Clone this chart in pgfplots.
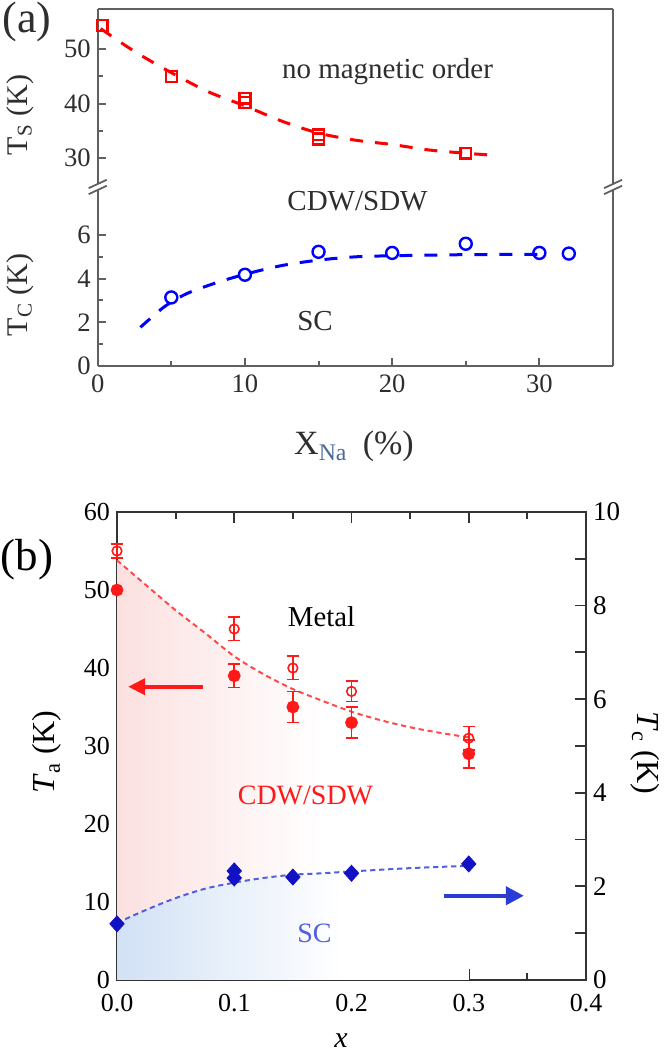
\documentclass[border=0pt]{standalone}
\usepackage{fontspec}
\setmainfont{Liberation Serif}
\usepackage{pgfplots}
\pgfplotsset{compat=1.18}
\usepackage{pgfplotstable}
\usetikzlibrary{arrows.meta}

\definecolor{axgray}{HTML}{606060}
\definecolor{axdark}{HTML}{333333}
\definecolor{txtgray}{HTML}{2E2E2E}
\definecolor{ared}{HTML}{FF0000}
\definecolor{ablue}{HTML}{0000FF}
\definecolor{bred}{HTML}{FF1A1A}
\definecolor{bredl}{HTML}{FF4A4A}
\definecolor{dkblue}{HTML}{1212C4}
\definecolor{lblue}{HTML}{5060E0}
\definecolor{arrblue}{HTML}{2B3BD6}
\definecolor{pinkc}{HTML}{FCE0E0}
\definecolor{bluec}{HTML}{D2E1F5}
\definecolor{nacol}{HTML}{4A6A9A}

\pgfdeclarehorizontalshading{pinkfade}{100bp}{color(0bp)=(pinkc); color(25bp)=(pinkc); color(54bp)=(white); color(100bp)=(white)}
\pgfdeclarehorizontalshading{bluefade}{100bp}{color(0bp)=(bluec); color(25bp)=(bluec); color(57bp)=(white); color(100bp)=(white)}

% ---------- panel (a) data ----------
\pgfplotstableread{
x Ts
0.3 54.4
5 45.0
10 41.0
10 40.2
15 33.5
15 34.3
25 30.9
}\tsdata
\pgfplotstableread{
x Ts
0.2 53.8
2.5 49.6
5 45.7
7.5 42.2
10 39.6
12.5 36.8
15 34.6
17.5 33.3
20 32.5
22.5 31.5
25 30.9
26.5 30.6
}\tsfit
\pgfplotstableread{
x Tc
5 3.14
10 4.18
15 5.23
20 5.18
25 5.60
30 5.18
32 5.15
}\tcdata
\pgfplotstableread{
x Tc
2.9 1.77
4.5 2.70
6 3.30
8 3.80
10 4.20
12.5 4.60
15 4.85
17.5 5.00
20 5.05
25 5.10
30.5 5.12
}\tcfit

% ---------- panel (b) data ----------
\pgfplotstableread{
x Ta e
0 55 0.9
0.1 45 1.5
0.15 40 1.5
0.2 37 1.3
0.3 31 1.5
}\taopen
\pgfplotstableread{
x Ta e
0 50 0
0.1 39 1.5
0.15 35 2
0.2 33 2
0.3 29 1.8
}\tafilled
\pgfplotstableread{
x Ta
0 53.8
0.025 50.6
0.05 47.4
0.075 44.5
0.1 41.5
0.125 39.2
0.15 37.3
0.175 35.8
0.2 34.4
0.225 33.3
0.25 32.4
0.275 31.7
0.3 31.1
}\tafit
\pgfplotstableread{
x Tc
0 1.20
0.1 2.33
0.1 2.18
0.15 2.20
0.2 2.28
0.3 2.48
}\tcb
\pgfplotstableread{
x Tc
0 1.22
0.025 1.50
0.05 1.75
0.075 1.95
0.1 2.08
0.125 2.18
0.15 2.25
0.175 2.28
0.2 2.32
0.25 2.39
0.3 2.44
}\tcbfit

\begin{document}
\begin{tikzpicture}
\useasboundingbox (0,0) rectangle (333pt,526.5pt);

% ================= panel (a), top half =================
\begin{axis}[
  at={(48.85pt,433pt)}, anchor=south west,
  scale only axis, width=257.65pt, height=89pt,
  xmin=0, xmax=35, ymin=24.7, ymax=57.4,
  clip=false,
  axis x line*=top, axis y line*=left,
  xtick=\empty,
  ytick={30,40,50}, minor ytick={35,45},
  tick align=inside, major tick length=4pt, minor tick length=2.5pt,
  axis line style={axgray, line width=1.1pt, -},
  tick style={axgray, line width=1pt},
  tick label style={font=\fontsize{13.3}{13}\selectfont, text=txtgray},
  /pgf/number format/assume math mode=true,
]
\draw[axgray, line width=1.1pt] (rel axis cs:1,0) -- (rel axis cs:1,1);
\addplot[ared, line width=1.5pt, dash pattern=on 6.5pt off 6pt, smooth, no marks] table[x=x,y=Ts] {\tsfit};
\addplot[ared, only marks, mark=square, mark size=2.7pt, line width=1.2pt] table[x=x,y=Ts] {\tsdata};
\end{axis}

% ================= panel (a), bottom half =================
\begin{axis}[
  at={(48.85pt,343.5pt)}, anchor=south west,
  scale only axis, width=257.65pt, height=89.5pt,
  xmin=0, xmax=35, ymin=0, ymax=8.2,
  clip=false,
  axis x line*=bottom, axis y line*=left,
  xtick={0,10,20,30}, minor xtick={5,15,25},
  ytick={0,2,4,6}, minor ytick={1,3,5},
  tick align=inside, major tick length=4pt, minor tick length=2.5pt,
  axis line style={axgray, line width=1.1pt, -},
  tick style={axgray, line width=1pt},
  tick label style={font=\fontsize{13.3}{13}\selectfont, text=txtgray},
  xticklabel style={yshift=-1pt},
  /pgf/number format/assume math mode=true,
]
\draw[axgray, line width=1.1pt] (rel axis cs:1,0) -- (rel axis cs:1,1);
\addplot[ablue, line width=1.5pt, dash pattern=on 6.5pt off 6pt, smooth, no marks] table[x=x,y=Tc] {\tcfit};
\addplot[ablue, only marks, mark=o, mark size=3pt, line width=1.2pt] table[x=x,y=Tc] {\tcdata};
\end{axis}

% break marks
\foreach \bx in {48.85,306.5}{
  \fill[white] (\bx pt-4.5pt,433pt-3.2pt) -- (\bx pt+4.5pt,433pt+0.8pt) -- (\bx pt+4.5pt,433pt+3.2pt) -- (\bx pt-4.5pt,433pt-0.8pt) -- cycle;
  \draw[axgray, line width=0.9pt] (\bx pt-4.5pt,433pt-3.6pt) -- (\bx pt+4.5pt,433pt+0.6pt);
  \draw[axgray, line width=0.9pt] (\bx pt-4.5pt,433pt-0.6pt) -- (\bx pt+4.5pt,433pt+3.6pt);
}

% panel (a) texts
\node[font=\fontsize{22}{22}\selectfont, text=txtgray, inner sep=0pt] at (13.5pt,515.5pt) {(a)};
\node[font=\fontsize{14.5}{15}\selectfont, text=txtgray] at (193.75pt,490.5pt) {no magnetic order};
\node[font=\fontsize{14.5}{15}\selectfont, text=txtgray] at (178.75pt,426pt) {CDW/SDW};
\node[font=\fontsize{14.5}{15}\selectfont, text=txtgray] at (157.5pt,366pt) {SC};
\node[rotate=90, font=\fontsize{15}{15}\selectfont, text=txtgray] at (10pt,469pt) {T\textsubscript{S} (K)};
\node[rotate=90, font=\fontsize{15}{15}\selectfont, text=txtgray] at (10pt,379pt) {T\textsubscript{C} (K)};
\node[anchor=base, font=\fontsize{17}{17}\selectfont, text=txtgray] at (177pt,299pt) {X\textsubscript{\color{nacol}Na}\hspace{0.45em}(\%)};

% ================= panel (b), left axis =================
\begin{axis}[
  at={(58.5pt,36.5pt)}, anchor=south west,
  scale only axis, width=234.5pt, height=234pt,
  xmin=0, xmax=0.4, ymin=0, ymax=60,
  clip=false,
  ytick pos=left,
  xtick={0,0.1,0.2,0.3,0.4}, xticklabels={0.0,0.1,0.2,0.3,0.4},
  minor xtick={0.05,0.15,0.25,0.35},
  ytick={0,10,20,30,40,50,60},
  tick align=inside, major tick length=5.5pt, minor tick length=3.5pt,
  axis line style={axdark, line width=0.9pt},
  tick style={axdark, line width=0.9pt},
  tick label style={font=\fontsize{13}{13}\selectfont, text=black},
  xticklabel style={yshift=-3.5pt},
  /pgf/number format/assume math mode=true,
]
\addplot[shading=pinkfade, draw=none, forget plot] table[x=x,y=Ta] {\tafit} \closedcycle;
\addplot[shading=bluefade, draw=none, forget plot] table[x=x,y expr=6*\thisrow{Tc}] {\tcbfit} \closedcycle;
\addplot[bredl, line width=1pt, dash pattern=on 2.6pt off 1.9pt, smooth, no marks] table[x=x,y=Ta] {\tafit};
\addplot[bred, only marks, mark=o, mark size=2.4pt, line width=0.8pt,
  error bars/.cd, y dir=both, y explicit,
  error bar style={line width=0.8pt},
  error mark options={rotate=90, mark size=3pt, line width=0.8pt}]
  table[x=x,y=Ta,y error=e] {\taopen};
\addplot[bred, only marks, mark=*, mark size=2.8pt, line width=0.8pt,
  error bars/.cd, y dir=both, y explicit,
  error bar style={line width=0.8pt},
  error mark options={rotate=90, mark size=3pt, line width=0.8pt}]
  table[x=x,y=Ta,y error=e] {\tafilled};
\draw[bred, line width=2pt, -{Triangle[length=8.5pt,width=8pt]}] (axis cs:0.0735,37.6) -- (axis cs:0.0095,37.6);
\end{axis}

% ================= panel (b), right axis =================
\begin{axis}[
  at={(58.5pt,36.5pt)}, anchor=south west,
  scale only axis, width=234.5pt, height=234pt,
  xmin=0, xmax=0.4, ymin=0, ymax=10,
  clip=false,
  axis x line=none, axis y line*=right,
  ytick={0,2,4,6,8,10}, minor ytick={1,3,5,7,9},
  tick align=inside, major tick length=5.5pt, minor tick length=5.5pt,
  axis line style={axdark, line width=0.9pt, -},
  tick style={axdark, line width=0.9pt},
  tick label style={font=\fontsize{13.5}{13}\selectfont, text=black},
  /pgf/number format/assume math mode=true,
]
\addplot[lblue, line width=1pt, dash pattern=on 2.6pt off 1.9pt, smooth, no marks] table[x=x,y=Tc] {\tcbfit};
\addplot[dkblue, only marks, mark=diamond*, mark size=4pt, mark options={xscale=1.2}] table[x=x,y=Tc] {\tcb};
\draw[arrblue, line width=2pt, -{Triangle[length=9pt,width=9pt]}] (axis cs:0.279,1.8) -- (axis cs:0.347,1.8);
\end{axis}

% panel (b) texts
\node[font=\fontsize{22.5}{22.5}\selectfont, text=black] at (13.5pt,246.5pt) {(b)};
\node[font=\fontsize{14.4}{15}\selectfont, text=black] at (160.75pt,218.25pt) {Metal};
\node[font=\fontsize{14}{15}\selectfont, text=bred] at (152.75pt,129pt) {CDW/SDW};
\node[font=\fontsize{14}{15}\selectfont, text=lblue] at (157.25pt,60pt) {SC};
\node[rotate=90, font=\fontsize{16}{16}\selectfont, text=black] at (23.5pt,150.5pt) {\textit{T}\textsubscript{a} (K)};
\node[rotate=-90, font=\fontsize{16}{16}\selectfont, text=black] at (322.5pt,150pt) {\textit{T}\textsubscript{c} (K)};
\node[font=\fontsize{15}{15}\selectfont, text=black, inner sep=0pt] at (170.5pt,6pt) {\textit{x}};
\end{tikzpicture}
\end{document}
